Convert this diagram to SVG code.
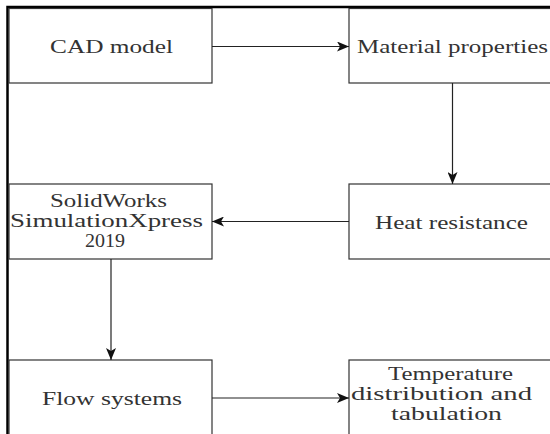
<svg xmlns="http://www.w3.org/2000/svg" width="550" height="434" viewBox="0 0 550 434">
<defs>
<marker id="ah" viewBox="0 0 12 10" refX="12" refY="5" markerWidth="12" markerHeight="10" markerUnits="userSpaceOnUse" orient="auto">
<path d="M0,0 L12,5 L0,10 L3,5 Z" fill="#111"/>
</marker>
</defs>
<style>
.box{fill:#fff;stroke:#333;stroke-width:1.2}
.t{font-family:'Liberation Serif','DejaVu Serif','Times New Roman',serif;font-size:18px;fill:#333}
.c{fill:none;stroke:#222;stroke-width:1.2;marker-end:url(#ah)}
.frame{stroke:#000;stroke-width:2.5;fill:none}
</style>
<rect width="550" height="434" fill="#fff"/>
<g id="frame"><path class="frame" d="M7.5,434 V7 H550"/></g>
<g id="cad"><rect class="box" x="9" y="8.5" width="203" height="74.5"/><text class="t" font-family="Liberation Serif, serif" x="50" y="53" textLength="123" lengthAdjust="spacingAndGlyphs">CAD model</text></g>
<g id="material"><rect class="box" x="349" y="8.5" width="203" height="74.5"/><text class="t" font-family="Liberation Serif, serif" x="357" y="53" textLength="191" lengthAdjust="spacingAndGlyphs">Material properties</text></g>
<g id="heat"><rect class="box" x="349" y="184" width="203" height="75"/><text class="t" font-family="Liberation Serif, serif" x="375" y="228.5" textLength="153" lengthAdjust="spacingAndGlyphs">Heat resistance</text></g>
<g id="solidworks"><rect class="box" x="9" y="184" width="203" height="75"/>
<text class="t" font-family="Liberation Serif, serif" x="50" y="207" textLength="117" lengthAdjust="spacingAndGlyphs">SolidWorks</text>
<text class="t" font-family="Liberation Serif, serif" x="10" y="227" textLength="193" lengthAdjust="spacingAndGlyphs">SimulationXpress</text>
<text class="t" font-family="Liberation Serif, serif" x="85" y="247" textLength="40" lengthAdjust="spacingAndGlyphs">2019</text></g>
<g id="flow"><rect class="box" x="9" y="360" width="203" height="80"/><text class="t" font-family="Liberation Serif, serif" x="42" y="405" textLength="140" lengthAdjust="spacingAndGlyphs">Flow systems</text></g>
<g id="temperature"><rect class="box" x="349" y="360" width="203" height="80"/>
<text class="t" font-family="Liberation Serif, serif" x="388" y="380" textLength="125" lengthAdjust="spacingAndGlyphs">Temperature</text>
<text class="t" font-family="Liberation Serif, serif" x="351" y="400" textLength="181" lengthAdjust="spacingAndGlyphs">distribution and</text>
<text class="t" font-family="Liberation Serif, serif" x="391" y="420" textLength="111" lengthAdjust="spacingAndGlyphs">tabulation</text></g>
<g id="connectors">
<path class="c" d="M212,46.5 H349"/>
<path class="c" d="M452.5,83 V184"/>
<path class="c" d="M349,221.5 H212"/>
<path class="c" d="M111,259 V360"/>
<path class="c" d="M212,398 H349"/>
</g>
</svg>
